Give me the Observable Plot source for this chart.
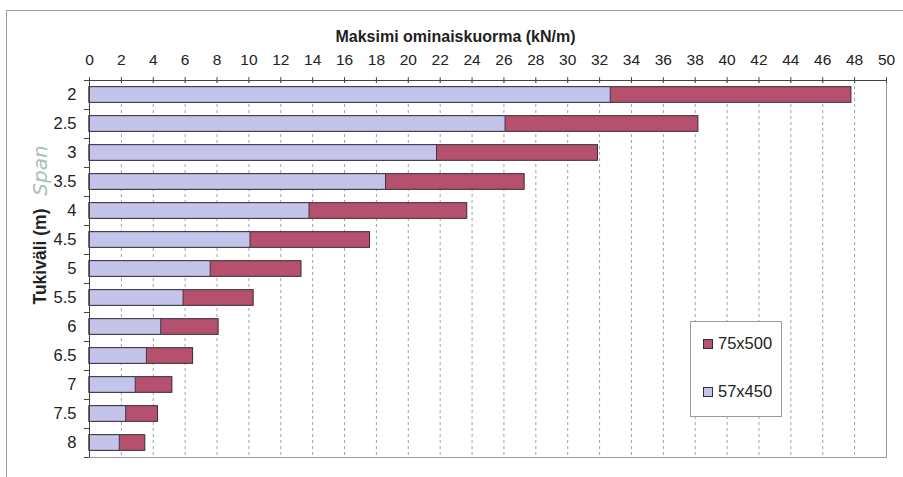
<!DOCTYPE html>
<html>
<head>
<meta charset="utf-8">
<script src="https://cdn.jsdelivr.net/npm/d3@7"></script>
<script src="https://cdn.jsdelivr.net/npm/@observablehq/plot@0.6"></script>
<style>
  html, body { margin: 0; padding: 0; background: #fff; overflow: hidden; }
  #wrap { position: relative; width: 903px; height: 477px; font-family: "Liberation Sans", Arial, sans-serif; }
  #border { position: absolute; left: 6px; top: 10px; width: 1000px; height: 600px;
            border-left: 1px solid #a0a0a0; border-top: 1px solid #a0a0a0; }
  #chart { position: absolute; left: 0; top: 0; }
  #legend { position: absolute; left: 690px; top: 321px; width: 90px; height: 94px;
            border: 1px solid #9a9a9a; background: #fff; font-size: 16.5px; color: #222; }
  .item { position: absolute; left: 12px; display: flex; align-items: center; }
  .sw { width: 8px; height: 8px; border: 1px solid #333; margin-right: 5px; }
</style>
</head>
<body>
<div id="wrap">
  <div id="border"></div>
  <div id="chart"></div>
  <div id="legend">
    <div class="item" style="top: 12px;"><div class="sw" style="background:#b5506f"></div>75x500</div>
    <div class="item" style="top: 60px;"><div class="sw" style="background:#c4c3ea"></div>57x450</div>
  </div>
</div>
<script>
// Span lengths (m), top to bottom
const spans = ["2", "2.5", "3", "3.5", "4", "4.5", "5", "5.5", "6", "6.5", "7", "7.5", "8"];
// Maximum characteristic load (kN/m) per section
const load57x450 = [32.7, 26.1, 21.8, 18.6, 13.8, 10.1, 7.6, 5.9, 4.5, 3.6, 2.9, 2.3, 1.9];
const load75x500 = [47.8, 38.2, 31.9, 27.3, 23.7, 17.6, 13.3, 10.3, 8.1, 6.5, 5.2, 4.3, 3.5];
const xTicks = d3.range(0, 51, 2);

const rows = spans.map((s, i) => ({span: s, i, a: load57x450[i], b: load75x500[i]}));
const half = 0.27;

const plot = Plot.plot({
  width: 903,
  height: 477,
  marginTop: 80,
  marginLeft: 89,
  marginRight: 17,
  marginBottom: 20,
  style: {fontFamily: "Liberation Sans, Arial, sans-serif", background: "transparent", color: "#222"},
  x: {domain: [0, 50]},
  y: {domain: [-0.5, spans.length - 0.5], reverse: true},
  marks: [
    // plot area border
    Plot.frame({stroke: "#9a9a9a"}),
    // dashed vertical gridlines
    Plot.ruleX(xTicks.filter(d => d > 0 && d < 50), {stroke: "#8a8a8a", strokeDasharray: "3,3", strokeWidth: 0.8}),
    // 75x500 bars (drawn from zero, lighter section overlays them)
    Plot.rectX(rows, {x1: 0, x2: "b", y1: d => d.i - half, y2: d => d.i + half, fill: "#b5506f", stroke: "#3a2a30", strokeWidth: 1}),
    // 57x450 bars
    Plot.rectX(rows, {x1: 0, x2: "a", y1: d => d.i - half, y2: d => d.i + half, fill: "#c4c3ea", stroke: "#3a3848", strokeWidth: 1}),
    // axes lines
    Plot.ruleY([-0.5], {stroke: "#444", strokeWidth: 1}),
    Plot.ruleX([0], {stroke: "#444", strokeWidth: 1}),
    // x tick marks crossing the top axis
    Plot.ruleX(xTicks, {y1: -0.6, y2: -0.4, stroke: "#444"}),
    // y tick marks between categories
    Plot.axisY(d3.range(-0.5, spans.length, 1), {tickSize: 5, tickFormat: () => "", stroke: "#444"}),
    // y category labels
    Plot.axisY(d3.range(spans.length), {tickSize: 0, tickPadding: 13, fontSize: 16.5, tickFormat: i => spans[i], label: null}),
    // x tick labels on top
    Plot.axisX(xTicks, {anchor: "top", tickSize: 0, tickPadding: 16, fontSize: 15.5, label: null}),
    // axis titles
    Plot.text(["Maksimi ominaiskuorma (kN/m)"], {frameAnchor: "top-left", dx: 366, dy: -50, fontSize: 16, fontWeight: "bold", textAnchor: "middle", fill: "#222"}),
    Plot.text(["Tukiväli (m)"], {frameAnchor: "top-left", dx: -56, dy: 176, rotate: -90, fontSize: 17.5, fontWeight: "bold", textAnchor: "middle", fill: "#222"}),
    Plot.text(["Span"], {frameAnchor: "top-left", dx: -57, dy: 90, rotate: -90, fontSize: 20, fontStyle: "italic", fontWeight: 300, textAnchor: "middle", fill: "#a9c0b4", fontFamily: "DejaVu Sans"})
  ]
});
document.getElementById("chart").appendChild(plot);
</script>
</body>
</html>
